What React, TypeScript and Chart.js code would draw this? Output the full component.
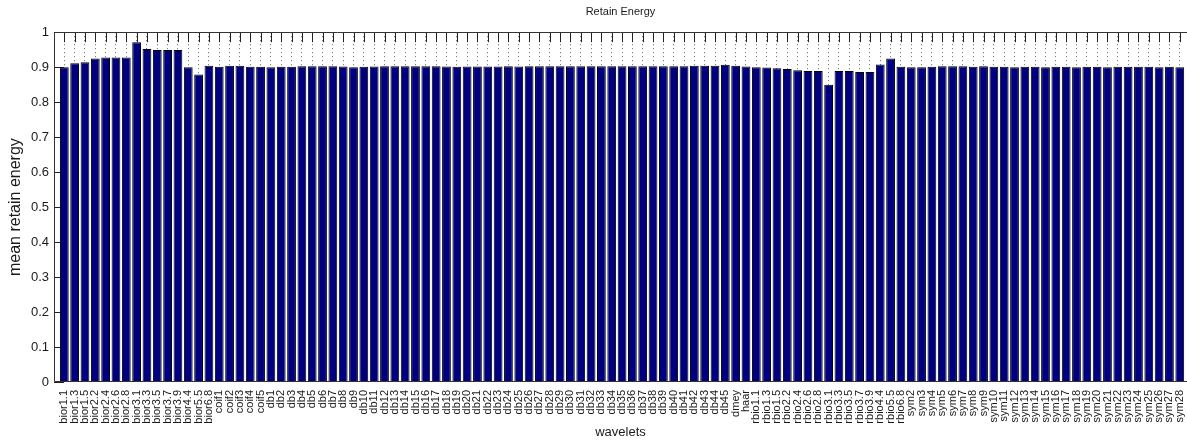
import React, { useEffect, useRef } from "react";
import { Chart, registerables } from "chart.js";

Chart.register(...registerables);

// ---- categories (wavelet names) ----
const biorLabels = ["bior1.1", "bior1.3", "bior1.5", "bior2.2", "bior2.4", "bior2.6", "bior2.8", "bior3.1", "bior3.3", "bior3.5", "bior3.7", "bior3.9", "bior4.4", "bior5.5", "bior6.8"];
const coifLabels = ["coif1", "coif2", "coif3", "coif4", "coif5"];
const dbLabels = [
  "db1", "db2", "db3", "db4", "db5", "db6", "db7", "db8", "db9", "db10",
  "db11", "db12", "db13", "db14", "db15", "db16", "db17", "db18", "db19", "db20",
  "db21", "db22", "db23", "db24", "db25", "db26", "db27", "db28", "db29", "db30",
  "db31", "db32", "db33", "db34", "db35", "db36", "db37", "db38", "db39", "db40",
  "db41", "db42", "db43", "db44", "db45",
];
const otherLabels = ["dmey", "haar"];
const rbioLabels = ["rbio1.1", "rbio1.3", "rbio1.5", "rbio2.2", "rbio2.4", "rbio2.6", "rbio2.8", "rbio3.1", "rbio3.3", "rbio3.5", "rbio3.7", "rbio3.9", "rbio4.4", "rbio5.5", "rbio6.8"];
const symLabels = [
  "sym2", "sym3", "sym4", "sym5", "sym6", "sym7", "sym8", "sym9", "sym10",
  "sym11", "sym12", "sym13", "sym14", "sym15", "sym16", "sym17", "sym18", "sym19", "sym20",
  "sym21", "sym22", "sym23", "sym24", "sym25", "sym26", "sym27", "sym28",
];

// ---- mean retain energy values ----
const biorValues = [0.900, 0.911, 0.914, 0.925, 0.928, 0.928, 0.928, 0.971, 0.952, 0.949, 0.949, 0.949, 0.900, 0.879, 0.904];
const coifValues = [0.901, 0.904, 0.904, 0.901, 0.901];
const dbValues = [
  0.900, 0.901, 0.901, 0.903, 0.903, 0.903, 0.903, 0.902, 0.900, 0.901,
  0.902, 0.903, 0.903, 0.903, 0.903, 0.903, 0.903, 0.902, 0.901, 0.902,
  0.902, 0.902, 0.902, 0.903, 0.902, 0.903, 0.903, 0.903, 0.903, 0.903,
  0.903, 0.903, 0.903, 0.903, 0.903, 0.903, 0.903, 0.903, 0.903, 0.903,
  0.903, 0.904, 0.904, 0.904, 0.907,
];
const otherValues = [0.904, 0.902];
const rbioValues = [0.900, 0.899, 0.897, 0.895, 0.891, 0.889, 0.889, 0.850, 0.889, 0.889, 0.886, 0.886, 0.908, 0.925, 0.901];
const symValues = [
  0.900, 0.900, 0.901, 0.903, 0.903, 0.903, 0.901, 0.903, 0.901,
  0.901, 0.900, 0.901, 0.901, 0.900, 0.901, 0.901, 0.900, 0.901, 0.901,
  0.900, 0.901, 0.901, 0.901, 0.901, 0.900, 0.901, 0.900,
];

// ---- y axis ticks ----
const yTickValues = [0, 0.1, 0.2, 0.3, 0.4, 0.5, 0.6, 0.7, 0.8, 0.9, 1];

const categories = [...biorLabels, ...coifLabels, ...dbLabels, ...otherLabels, ...rbioLabels, ...symLabels];
const values = [...biorValues, ...coifValues, ...dbValues, ...otherValues, ...rbioValues, ...symValues];

// x axis limits (bar positions are 1..N, MATLAB style; right side is cropped)
const X_MIN = 0;
const X_MAX = 109.7;

const FONT = "'Liberation Sans', Arial, Helvetica, sans-serif";
const TEXT = "#1a1a1a";

export default function App() {
  const ref = useRef<HTMLCanvasElement>(null);

  useEffect(() => {
    document.body.style.margin = "0";
    if (!ref.current) return;
    const points = values.map((v, i) => ({ x: i + 1, y: v }));
    const xTickValues = categories.map((_c, i) => i + 1);

    const boxPlugin = {
      id: "matlabBox",
      beforeDatasetsDraw(chart: any) {
        const { ctx, chartArea: a, scales } = chart;
        const xs = scales.x;
        const ys = scales.y;
        ctx.save();
        ctx.strokeStyle = "#222";
        ctx.lineWidth = 1;
        ctx.beginPath();
        xTickValues.forEach((v) => {
          const px = Math.round(xs.getPixelForValue(v)) + 0.5;
          ctx.moveTo(px, a.top);
          ctx.lineTo(px, a.top + 10);
          ctx.moveTo(px, a.bottom);
          ctx.lineTo(px, a.bottom - 10);
        });
        yTickValues.forEach((v) => {
          const py = Math.round(ys.getPixelForValue(v)) + 0.5;
          ctx.moveTo(a.left, py);
          ctx.lineTo(a.left + 10, py);
        });
        ctx.stroke();
        ctx.restore();
      },
      afterDatasetsDraw(chart: any) {
        const { ctx, chartArea: a } = chart;
        const l = Math.round(a.left) + 0.5;
        const t = Math.round(a.top) + 0.5;
        const b = Math.round(a.bottom) - 0.5;
        ctx.save();
        ctx.strokeStyle = "#333";
        ctx.lineWidth = 1;
        ctx.beginPath();
        ctx.moveTo(a.right, t);
        ctx.lineTo(l, t);
        ctx.lineTo(l, b);
        ctx.lineTo(a.right, b);
        ctx.stroke();
        ctx.restore();
      },
    };

    const chart = new Chart(ref.current, {
      type: "bar",
      data: {
        datasets: [
          {
            data: points,
            backgroundColor: "#00007f",
            borderColor: "#000000",
            borderWidth: 1,
            barPercentage: 0.85,
            categoryPercentage: 1,
          },
        ],
      },
      options: {
        animation: false,
        responsive: false,
        devicePixelRatio: 1,
        font: { family: FONT },
        layout: { padding: { left: 0, right: 0, top: 0, bottom: 0 } },
        plugins: {
          legend: { display: false },
          tooltip: { enabled: false },
          title: {
            display: true,
            fullSize: false,
            text: "Retain Energy",
            color: TEXT,
            font: { family: FONT, size: 11, weight: "normal" },
            padding: { top: 5, bottom: 14 },
          },
        },
        scales: {
          x: {
            type: "linear",
            min: X_MIN,
            max: X_MAX,
            offset: false,
            afterBuildTicks: (s: any) => {
              s.ticks = xTickValues.map((v) => ({ value: v }));
            },
            grid: { display: true, offset: false, color: "#666", lineWidth: 1, drawTicks: false },
            border: { display: false, dash: [1, 3] },
            ticks: {
              autoSkip: false,
              maxRotation: 90,
              minRotation: 90,
              padding: 8,
              color: TEXT,
              font: { family: FONT, size: 11 },
              callback: (v: any) => categories[Math.round(Number(v)) - 1] ?? "",
            },
            title: {
              display: true,
              text: "wavelets",
              color: TEXT,
              font: { family: FONT, size: 13 },
              padding: { top: 0, bottom: 1 },
            },
            afterFit: (s: any) => {
              s.height = 59;
              s.paddingLeft = 0;
              s.paddingRight = 0;
            },
          },
          y: {
            min: 0,
            max: 1,
            afterBuildTicks: (s: any) => {
              s.ticks = yTickValues.map((v) => ({ value: v }));
            },
            grid: { display: false, drawTicks: false },
            border: { display: false },
            ticks: {
              padding: 5,
              color: TEXT,
              font: { family: FONT, size: 13 },
              callback: (v: any) => String(Math.round(Number(v) * 10) / 10),
            },
            title: {
              display: true,
              text: "mean retain energy",
              color: TEXT,
              font: { family: FONT, size: 16 },
              padding: { top: 6, bottom: 0 },
            },
            afterFit: (s: any) => {
              s.width = 54;
            },
          },
        },
      },
      plugins: [boxPlugin],
    });

    return () => chart.destroy();
  }, []);

  return (
    <div style={{ width: 1187, height: 441, background: "#fff" }}>
      <canvas ref={ref} width={1187} height={441} style={{ display: "block" }} />
    </div>
  );
}
